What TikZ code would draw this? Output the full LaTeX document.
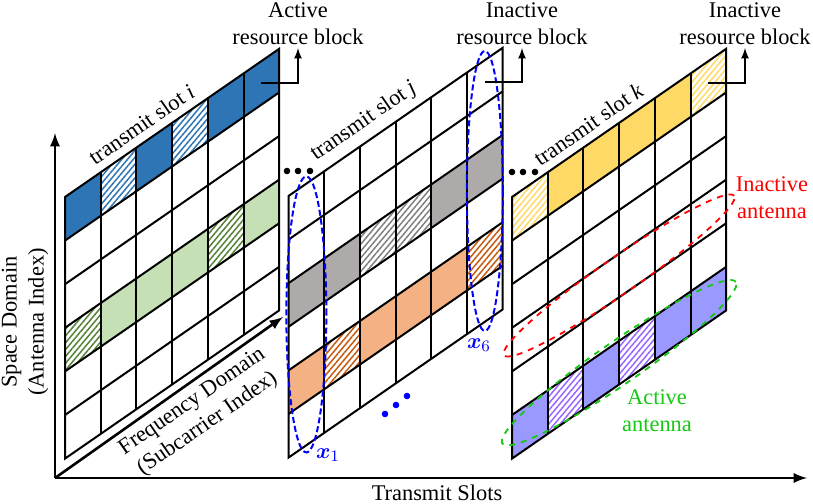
\documentclass[tikz,border=0pt]{standalone}
\usepackage{fontspec}
\setmainfont{Liberation Serif}
\usepackage{amsmath}
\usetikzlibrary{patterns.meta}

\definecolor{rbblue}{RGB}{46,117,182}
\definecolor{rbgreen}{RGB}{197,224,180}
\definecolor{rbgreenh}{RGB}{84,130,53}
\definecolor{rbgrey}{RGB}{174,170,170}
\definecolor{rbgreyh}{RGB}{128,128,128}
\definecolor{rborange}{RGB}{244,177,131}
\definecolor{rborangeh}{RGB}{197,90,17}
\definecolor{rbyellow}{RGB}{255,217,102}
\definecolor{rbpurple}{RGB}{153,153,255}
\definecolor{rbpurpleh}{RGB}{153,102,255}
\definecolor{antred}{RGB}{255,0,0}
\definecolor{antgreen}{RGB}{20,200,20}

\begin{document}
\begin{tikzpicture}[x=0.5pt,y=-0.5pt,>=latex]
\tikzstyle{every node}=[font=\fontsize{11.2}{13.5}\selectfont]
\tikzstyle{gridline}=[line width=1pt,line join=miter]
\tikzstyle{axis}=[line width=1.3pt]
\tikzstyle{hatch}=[pattern={Lines[angle=50,distance=2.2pt,line width=0.75pt]}]
\tikzstyle{bfill}=[fill=rbblue]
\tikzstyle{bhatch}=[hatch,pattern color=rbblue]
\tikzstyle{gfill}=[fill=rbgreen]
\tikzstyle{ghatch}=[hatch,pattern color=rbgreenh]
\tikzstyle{kfill}=[fill=rbgrey]
\tikzstyle{khatch}=[hatch,pattern color=rbgreyh]
\tikzstyle{ofill}=[fill=rborange]
\tikzstyle{ohatch}=[hatch,pattern color=rborangeh]
\tikzstyle{yfill}=[fill=rbyellow]
\tikzstyle{yhatch}=[hatch,pattern color=rbyellow]
\tikzstyle{pfill}=[fill=rbpurple]
\tikzstyle{phatch}=[hatch,pattern color=rbpurpleh]
\tikzstyle{rblabel}=[anchor=south,align=center,inner sep=1.5pt]
\tikzstyle{slotlabel}=[pos=0.4,sloped,above,inner sep=4pt]
\tikzstyle{symbell}=[draw=blue,line width=1pt,dash pattern=on 3pt off 1.5pt]
\useasboundingbox (0,0) rectangle (813,503);

% axes
\coordinate (orig) at (55,478);
\coordinate (ytip) at (55,133);
\coordinate (xtip) at (807,478);
\coordinate (ftip) at (283,317);
\draw[axis,->] (orig) -- (ytip);
\draw[axis,->] (orig) -- (xtip);
\draw[axis,->] (orig) -- (ftip);
\node[rotate=90,align=center] (sdom) at (25,322) {Space Domain\\(Antenna Index)};
\node[rotate=34.7,align=center] (fdom) at (200,413) {Frequency Domain\\(Subcarrier Index)};
\node (tslots) at (437,493) {Transmit Slots};

% transmit slot i
\begin{scope}[shift={(65,197)},x={(17.85pt,12.35pt)},y={(0pt,-21.8pt)}]
\foreach \c/\s in {0/bfill,1/bhatch,2/bfill,3/bhatch,4/bfill,5/bfill}
  \path[\s] (\c,0) -- ++(1,0) -- ++(0,1) -- ++(-1,0) -- cycle;
\foreach \c/\s in {0/ghatch,1/gfill,2/gfill,3/gfill,4/ghatch,5/gfill}
  \path[\s] (\c,3) -- ++(1,0) -- ++(0,1) -- ++(-1,0) -- cycle;
\foreach \c in {1,...,5} \draw[gridline] (\c,0) -- (\c,6);
\foreach \r in {1,...,5} \draw[gridline] (0,\r) -- (6,\r);
\draw[gridline] (0,0) -- (6,0) -- (6,6) -- (0,6) -- cycle;
\path (0,0) -- node[slotlabel] (tsi) {transmit slot \textit{i}} (6,0);
\coordinate (ci) at (5.5,0.5);
\end{scope}

% transmit slot j
\begin{scope}[shift={(288.5,196)},x={(17.85pt,12.35pt)},y={(0pt,-21.8pt)}]
\foreach \c/\s in {0/kfill,1/kfill,2/khatch,3/khatch,4/kfill,5/kfill}
  \path[\s] (\c,2) -- ++(1,0) -- ++(0,1) -- ++(-1,0) -- cycle;
\foreach \c/\s in {0/ofill,1/ohatch,2/ofill,3/ofill,4/ofill,5/ohatch}
  \path[\s] (\c,4) -- ++(1,0) -- ++(0,1) -- ++(-1,0) -- cycle;
\foreach \c in {1,...,5} \draw[gridline] (\c,0) -- (\c,6);
\foreach \r in {1,...,5} \draw[gridline] (0,\r) -- (6,\r);
\draw[gridline] (0,0) -- (6,0) -- (6,6) -- (0,6) -- cycle;
\path (0,0) -- node[slotlabel] (tsj) {transmit slot \textit{j}} (6,0);
\coordinate (cj) at (5.5,0.5);
\draw[symbell] (0.5,3) ellipse [x radius=10pt,y radius=69pt];
\draw[symbell] (5.5,3) ellipse [x radius=9pt,y radius=70pt];
\end{scope}

% transmit slot k
\begin{scope}[shift={(512,197)},x={(17.85pt,12.35pt)},y={(0pt,-21.8pt)}]
\foreach \c/\s in {0/yhatch,1/yfill,2/yfill,3/yfill,4/yfill,5/yhatch}
  \path[\s] (\c,0) -- ++(1,0) -- ++(0,1) -- ++(-1,0) -- cycle;
\foreach \c/\s in {0/pfill,1/phatch,2/pfill,3/phatch,4/pfill,5/pfill}
  \path[\s] (\c,5) -- ++(1,0) -- ++(0,1) -- ++(-1,0) -- cycle;
\foreach \c in {1,...,5} \draw[gridline] (\c,0) -- (\c,6);
\foreach \r in {1,...,5} \draw[gridline] (0,\r) -- (6,\r);
\draw[gridline] (0,0) -- (6,0) -- (6,6) -- (0,6) -- cycle;
\path (0,0) -- node[slotlabel] (tsk) {transmit slot \textit{k}} (6,0);
\coordinate (ck) at (5.5,0.5);
\draw[antred,line width=0.9pt,dashed,rotate around={34.7:(3,3.5)}] (3,3.5) ellipse [x radius=70pt,y radius=9pt];
\draw[antgreen,line width=0.9pt,dashed,rotate around={34.7:(3,5.5)}] (3,5.5) ellipse [x radius=71pt,y radius=10.5pt];
\end{scope}

% resource block labels
\node[rblabel] (rbi) at (298,48) {Active\\resource block};
\node[rblabel] (rbj) at (522,48) {Inactive\\resource block};
\node[rblabel] (rbk) at (745,48) {Inactive\\resource block};
\draw[->,line width=0.8pt] (ci) -| (rbi.south);
\draw[->,line width=0.8pt] (cj) -| (rbj.south);
\draw[->,line width=0.8pt] (ck) -| (rbk.south);

% antenna labels
\node[antred,align=center] (inant) at (772,198) {Inactive\\antenna};
\node[antgreen,align=center] (acant) at (657,411) {Active\\antenna};

% symbol labels
\node[blue] (xa) at (328,455) {$\boldsymbol{x}_1$};
\node[blue] (xf) at (479,345) {$\boldsymbol{x}_6$};

% dots
\foreach \p in {287,298,310} \fill (\p,171) circle (3.3);
\foreach \p in {512,523,535} \fill (\p,172) circle (3.3);
\foreach \p/\q in {385/414,396/405,407/396} \fill[blue] (\p,\q) circle (3.3);
\end{tikzpicture}
\end{document}
